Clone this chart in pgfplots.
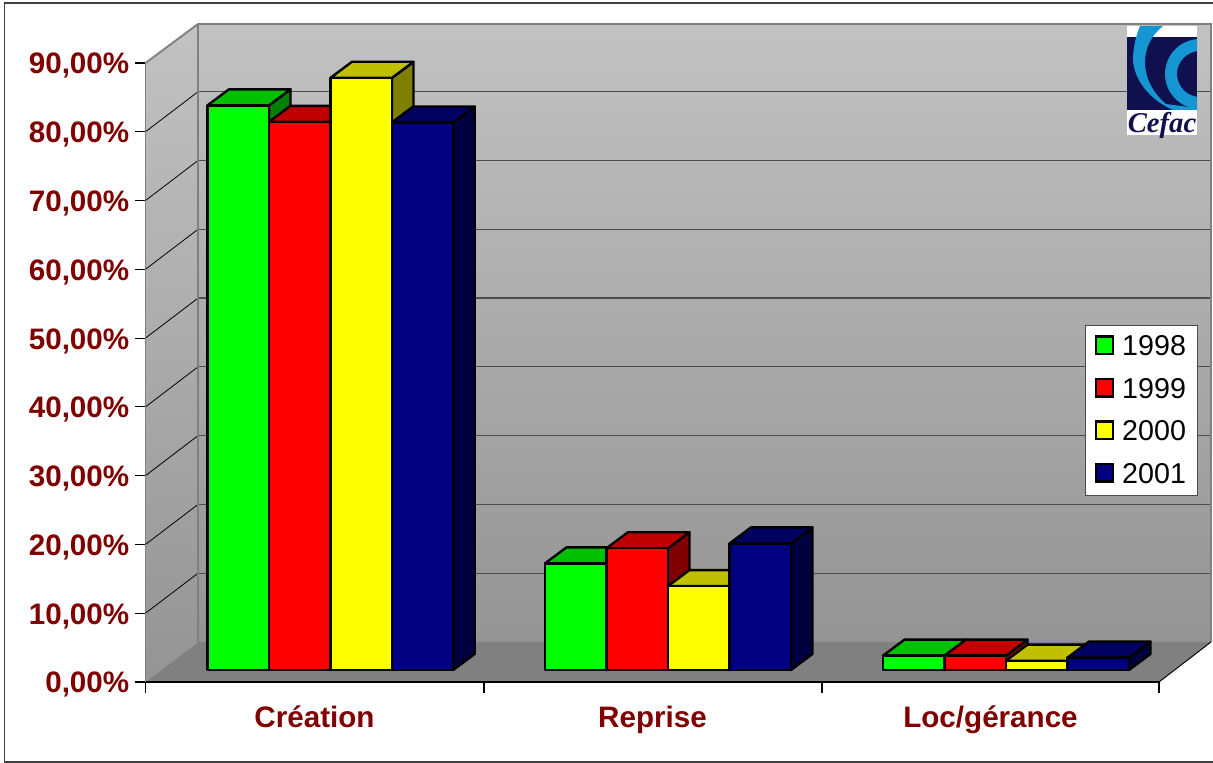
\documentclass[border=0pt]{standalone}
\usepackage{pgfplots}
\pgfplotsset{compat=1.18}
\usepackage{fontspec}
\setmainfont{Liberation Sans}
\definecolor{cgreen}{RGB}{0,255,0}
\definecolor{cgreenT}{RGB}{0,192,0}
\definecolor{cgreenS}{RGB}{0,128,0}
\definecolor{cred}{RGB}{255,0,0}
\definecolor{credT}{RGB}{192,0,0}
\definecolor{credS}{RGB}{128,0,0}
\definecolor{cyel}{RGB}{255,255,0}
\definecolor{cyelT}{RGB}{192,192,0}
\definecolor{cyelS}{RGB}{128,128,0}
\definecolor{cnav}{RGB}{0,0,128}
\definecolor{cnavT}{RGB}{0,0,96}
\definecolor{cnavS}{RGB}{0,0,64}
\definecolor{lab}{RGB}{128,0,0}
\definecolor{logoN}{RGB}{16,16,78}
\definecolor{logoC}{RGB}{20,150,210}
% one bar: left edge (px), value (%), colour. Bars stand 12 px above the front edge of the floor
\def\bw{61.5}\def\ddx{21.5}\def\ddy{2.33}\def\base{1.745}
\pgfplotsset{barline/.style={draw=black,line width=1.8pt,line join=round,forget plot,mark=none,sharp plot}}
\newcommand\frontface[3]{%
 \pgfmathsetmacro\xa{#1+\bw}\pgfmathsetmacro\ya{#2+\base}%
 \edef\tmp{\noexpand\addplot[barline,fill=#3] coordinates {(#1,\base) (#1,\ya) (\xa,\ya) (\xa,\base)} -- cycle;}\tmp}
\newcommand\topface[3]{%
 \pgfmathsetmacro\xa{#1+\bw}\pgfmathsetmacro\ya{#2+\base}%
 \pgfmathsetmacro\xb{#1+\ddx}\pgfmathsetmacro\xc{\xa+\ddx}\pgfmathsetmacro\yb{\ya+\ddy}%
 \edef\tmp{\noexpand\addplot[barline,fill=#3T] coordinates {(#1,\ya) (\xb,\yb) (\xc,\yb) (\xa,\ya)} -- cycle;}\tmp}
\newcommand\sideface[3]{%
 \pgfmathsetmacro\xa{#1+\bw}\pgfmathsetmacro\ya{#2+\base}%
 \pgfmathsetmacro\xc{\xa+\ddx}\pgfmathsetmacro\yb{\ya+\ddy}\pgfmathsetmacro\yc{\base+\ddy}%
 \edef\tmp{\noexpand\addplot[barline,fill=#3S] coordinates {(\xa,\ya) (\xc,\yb) (\xc,\yc) (\xa,\base)} -- cycle;}\tmp}
\newcommand\allbars[1]{%
 #1{207.5}{82.1}{cgreen}#1{269}{79.7}{cred}#1{330.5}{86.1}{cyel}#1{391.7}{79.6}{cnav}%
 #1{545}{15.5}{cgreen}#1{606.5}{17.7}{cred}#1{668}{12.2}{cyel}#1{729.5}{18.4}{cnav}%
 #1{883}{2.08}{cgreen}#1{944.5}{2.08}{cred}#1{1006}{1.35}{cyel}#1{1067.5}{1.8}{cnav}}
\begin{document}
\begin{tikzpicture}
\path[use as bounding box] (-109.125pt,-60.75pt) rectangle ++(909.75pt,572.25pt);
\begin{scope}[shift={(-109.125pt,511.5pt)},x=.75pt,y=-.75pt]
 % frame
 \draw[black!75,line width=1.2pt] (1213,3) -- (4.5,3) -- (4.5,762) -- (1213,762);
 % walls
 \shade[top color=black!24,bottom color=black!42] (198,24) rectangle (1211,642);
 \shade[top color=black!24,bottom color=black!42] (145.5,63) -- (198,24) -- (198,642) -- (145.5,682) -- cycle;
 \fill[black!50] (145.5,682) -- (198,642) -- (1211,642) -- (1159,682) -- cycle;
 % gridlines
 \foreach \k in {1,...,8}{
  \pgfmathsetmacro\yf{682-\k*68.78}\pgfmathsetmacro\yb{642-\k*68.78}
  \draw[black,line width=.6pt] (145.5,\yf) -- (198,\yb);
  \draw[black!70,line width=.9pt] (198,\yb) -- (1211,\yb);
 }
 \draw[black!50,line width=1.4pt] (145.5,63) -- (198,24) -- (1211,24) -- (1211,642);
 \draw[black!50,line width=1.4pt] (198,24) -- (198,642);
 \draw[black,line width=.7pt] (1159,682) -- (1211,642);
\end{scope}
\begin{axis}[
 at={(0,0)},anchor=south west,scale only axis,
 width=760.125pt,height=464.25pt,
 xmin=145.5,xmax=1159,ymin=0,ymax=90,
 clip=false,axis lines=left,
 axis line style={-},
 x axis line style={black,line width=1.1pt},
 y axis line style={black!50,line width=1.1pt},
 tick align=outside,
 tick style={black,line width=.8pt},
 major tick length=8pt,
 xtick={145.5,484,822,1159},
 xticklabels={},
 extra x ticks={314.5,652.5,990.5},
 extra x tick labels={Création,Reprise,Loc/gérance},
 extra x tick style={major tick length=0pt,tick style={draw=none}},
 ytick={0,10,...,90},
 yticklabels={{0,00\%},{10,00\%},{20,00\%},{30,00\%},{40,00\%},{50,00\%},{60,00\%},{70,00\%},{80,00\%},{90,00\%}},
 tick label style={font=\fontsize{22.2}{26}\selectfont\bfseries,text=lab},
 yticklabel style={inner sep=0pt,anchor=east,xshift=-4pt,yshift=-2.2pt},
 xticklabel style={inner sep=0pt,anchor=base,yshift=-34.25pt},
 legend image code/.code={\draw[#1] (0pt,1.2pt) rectangle (13pt,14.2pt);},
 legend cell align=left,
 legend style={at={(axis cs:1085.3,51.95)},anchor=north west,draw=black!70,line width=.8pt,
   font=\fontsize{21.5}{24}\selectfont,row sep=15.3pt,inner xsep=6.5pt,inner ysep=7.6pt,
   nodes={inner sep=0pt,anchor=base west},
   /tikz/column 1/.style={column sep=6pt}},
]
\allbars{\sideface}
\allbars{\topface}
\allbars{\frontface}
\addlegendimage{draw=black,line width=1.8pt,fill=cgreen}\addlegendentry{1998\rule{2.3pt}{0pt}}
\addlegendimage{draw=black,line width=1.8pt,fill=cred}\addlegendentry{1999\rule{2.3pt}{0pt}}
\addlegendimage{draw=black,line width=1.8pt,fill=cyel}\addlegendentry{2000\rule{2.3pt}{0pt}}
\addlegendimage{draw=black,line width=1.8pt,fill=cnav}\addlegendentry{2001\rule{2.3pt}{0pt}}
\end{axis}
\begin{scope}[shift={(-109.125pt,511.5pt)},x=.75pt,y=-.75pt]
 \fill[white] (1127,26) rectangle (1197,135);
 \fill[logoN] (1127,37) rectangle (1197,110);
 \begin{scope}
  \clip (1127,26) rectangle (1197,110);
  \fill[logoC] (1140,26) .. controls (1135,38) and (1133,50) .. (1133,60) .. controls (1134,80) and (1150,100) .. (1173,110)
     -- (1197,110) -- (1197,108) -- (1166,104) .. controls (1155,95) and (1145,80) .. (1145,62) .. controls (1145,47) and (1152,35) .. (1163,26) -- cycle;
  \fill[logoC,even odd rule] (1200,74) circle [radius=35] (1200,74) circle [radius=23];
 \end{scope}
 \node[anchor=base,inner sep=0pt,text=logoN] at (1162,133) {\fontspec{Liberation Serif}\fontsize{21.5}{24}\selectfont\bfseries\itshape Cefac};
\end{scope}
\end{tikzpicture}
\end{document}
